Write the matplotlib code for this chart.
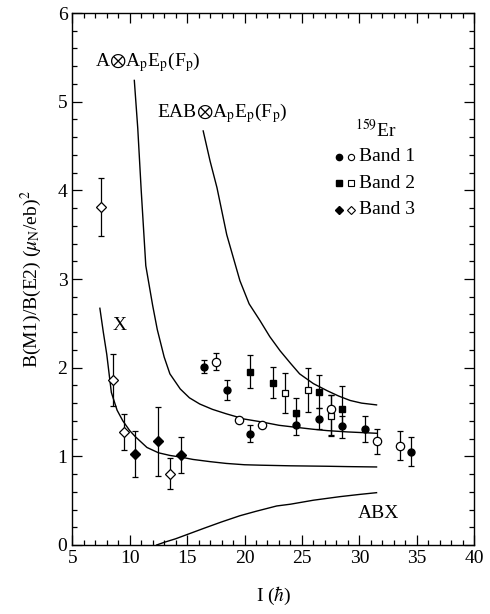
import numpy as np
import matplotlib
matplotlib.use('Agg')
import matplotlib.pyplot as plt

plt.rcParams['font.family'] = ['Liberation Serif', 'DejaVu Serif']
plt.rcParams['mathtext.fontset'] = 'stix'

# band 1 (filled / open circles)
b1f_x = [16.5, 18.5, 20.5, 24.5, 26.5, 28.5, 30.5, 34.5]
b1f_y = [2.01, 1.75, 1.25, 1.35, 1.42, 1.34, 1.31, 1.05]
b1f_lo = [0.07, 0.11, 0.09, 0.11, 0.11, 0.13, 0.15, 0.16]
b1f_hi = [0.08, 0.11, 0.10, 0.10, 0.13, 0.12, 0.15, 0.17]
b1o_x = [17.5, 19.5, 21.5, 27.5, 31.5, 33.5]
b1o_y = [2.06, 1.41, 1.35, 1.53, 1.17, 1.12]
b1o_lo = [0.09, 0.0, 0.0, 0.30, 0.14, 0.16]
b1o_hi = [0.10, 0.0, 0.0, 0.16, 0.14, 0.16]

# band 2 (filled / open squares)
b2f_x = [20.5, 22.5, 24.5, 26.5, 28.5]
b2f_y = [1.95, 1.83, 1.49, 1.72, 1.53]
b2f_lo = [0.18, 0.17, 0.15, 0.17, 0.18]
b2f_hi = [0.19, 0.18, 0.17, 0.20, 0.26]
b2o_x = [23.5, 25.5, 27.5]
b2o_y = [1.71, 1.75, 1.45]
b2o_lo = [0.22, 0.25, 0.21]
b2o_hi = [0.23, 0.25, 0.24]

# band 3 (filled / open diamonds)
b3f_x = [10.5, 12.5, 14.5]
b3f_y = [1.03, 1.17, 1.01]
b3f_lo = [0.26, 0.39, 0.20]
b3f_hi = [0.26, 0.39, 0.21]
b3o_x = [7.5, 8.5, 9.5, 13.5]
b3o_y = [3.81, 1.86, 1.27, 0.80]
b3o_lo = [0.33, 0.29, 0.20, 0.17]
b3o_hi = [0.33, 0.29, 0.21, 0.18]

# calculated curves
c_a_x = [10.4, 10.7, 11.0, 11.4, 12.0, 12.4, 13.0, 13.5, 14.4, 15.2, 16.1, 17.2,
         18.4, 20.0, 21.4, 23.0, 24.3, 26.0, 27.2, 29.0, 31.5]
c_a_y = [5.24, 4.70, 4.00, 3.15, 2.70, 2.43, 2.12, 1.93, 1.76, 1.66, 1.59, 1.53,
         1.48, 1.42, 1.39, 1.35, 1.33, 1.305, 1.29, 1.275, 1.26]
c_e_x = [16.4, 17.0, 17.6, 18.45, 19.6, 20.4, 21.35, 22.2, 23.1, 24.0, 24.8, 26.0,
         27.2, 28.2, 29.2, 30.2, 31.5]
c_e_y = [4.67, 4.33, 4.03, 3.50, 2.98, 2.72, 2.53, 2.35, 2.19, 2.05, 1.93, 1.82,
         1.74, 1.68, 1.63, 1.60, 1.58]
c_x_x = [7.4, 7.7, 8.0, 8.4, 8.9, 9.4, 10.0, 10.5, 11.5, 12.5, 13.5, 14.5, 15.5,
         17.0, 18.4, 20.0, 21.4, 24.0, 27.2, 29.0, 31.5]
c_x_y = [2.67, 2.40, 2.15, 1.72, 1.52, 1.40, 1.29, 1.22, 1.10, 1.04, 1.01, 0.99,
         0.965, 0.94, 0.92, 0.905, 0.90, 0.893, 0.888, 0.884, 0.88]
c_abx_x = [12.35, 13.0, 14.0, 15.25, 16.5, 18.0, 19.6, 21.0, 22.8, 24.0, 26.0,
           28.3, 30.0, 31.5]
c_abx_y = [0.0, 0.03, 0.07, 0.13, 0.19, 0.26, 0.33, 0.38, 0.44, 0.46, 0.505,
           0.545, 0.57, 0.59]

fig = plt.figure(figsize=(4.9, 6.14), dpi=100)
ax = fig.add_axes([0.1476, 0.1124, 0.8200, 0.8664])

for cx, cy in [(c_a_x, c_a_y), (c_e_x, c_e_y), (c_x_x, c_x_y), (c_abx_x, c_abx_y)]:
    ax.plot(cx, cy, color='black', lw=1.0)

eb = dict(ls='none', ecolor='black', elinewidth=0.9, capsize=2.2, capthick=0.9)
ax.errorbar(b1f_x, b1f_y, yerr=[b1f_lo, b1f_hi], fmt='o', mfc='black', mec='black', ms=5, **eb)
ax.errorbar(b1o_x, b1o_y, yerr=[b1o_lo, b1o_hi], fmt='o', mfc='white', mec='black', mew=0.9, ms=6, **eb)
ax.errorbar(b2f_x, b2f_y, yerr=[b2f_lo, b2f_hi], fmt='s', mfc='black', mec='black', ms=5, **eb)
ax.errorbar(b2o_x, b2o_y, yerr=[b2o_lo, b2o_hi], fmt='s', mfc='white', mec='black', mew=0.9, ms=5, **eb)
ax.errorbar(b3f_x, b3f_y, yerr=[b3f_lo, b3f_hi], fmt='D', mfc='black', mec='black', ms=5, **eb)
ax.errorbar(b3o_x, b3o_y, yerr=[b3o_lo, b3o_hi], fmt='D', mfc='white', mec='black', mew=0.9, ms=5.5, **eb)

# legend drawn by hand
leg_y = [4.38, 4.08, 3.78]
leg_m = ['o', 's', 'D']
leg_t = ['Band 1', 'Band 2', 'Band 3']
for yy, m, t in zip(leg_y, leg_m, leg_t):
    ax.plot([28.2], [yy], m, color='black', ms=4.5)
    ax.plot([29.3], [yy], m, mfc='white', mec='black', mew=0.8, ms=4.5)
    ax.text(30.0, yy, t, fontsize=14, va='center', ha='left')
ax.text(29.6, 4.68, r'$^{159}$Er', fontsize=14, va='center', ha='left')

ax.text(7.0, 5.45, r'A$\otimes$A$_\mathrm{p}$E$_\mathrm{p}$(F$_\mathrm{p}$)', fontsize=14, va='center')
ax.text(12.35, 4.87, r'EAB$\otimes$A$_\mathrm{p}$E$_\mathrm{p}$(F$_\mathrm{p}$)', fontsize=14, va='center')
ax.text(9.1, 2.48, 'X', fontsize=14, va='center', ha='center')
ax.text(31.65, 0.36, 'ABX', fontsize=14, va='center', ha='center')

ax.set_xlim(5, 40)
ax.set_ylim(0, 6)
ax.set_xticks(np.arange(5, 41, 5))
ax.set_yticks(np.arange(0, 7, 1))
ax.set_xticks(np.arange(5, 41, 1), minor=True)
ax.set_yticks(np.arange(0, 6.01, 0.2), minor=True)
ax.tick_params(which='both', direction='in', top=True, right=True, labelsize=14, width=0.9)
ax.tick_params(which='major', length=7)
ax.tick_params(which='minor', length=3.5)
for s in ax.spines.values():
    s.set_linewidth(1.0)

ax.set_xlabel(r'I ($\hbar$)', fontsize=14, labelpad=13)
ax.set_ylabel(r'B(M1)/B(E2) ($\mu_\mathrm{N}$/eb)$^2$', fontsize=14, labelpad=10)

fig.savefig('out.png', dpi=100)
